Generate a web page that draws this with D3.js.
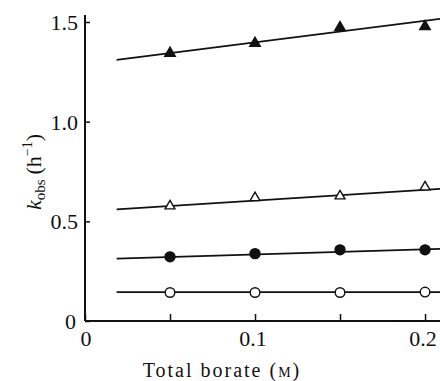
<!DOCTYPE html>
<html>
<head>
<meta charset="utf-8">
<script src="https://cdn.jsdelivr.net/npm/d3@7"></script>
<style>
  html, body { margin: 0; padding: 0; background: #fff; }
  svg { display: block; }
  text { font-family: "Liberation Serif", "DejaVu Serif", serif; fill: #111; }
</style>
</head>
<body>
<svg id="chart" width="440" height="381"></svg>
<script>
// Measured borate concentrations (M)
const borate = [0.05, 0.10, 0.15, 0.20];

// Observed rate constants k_obs (h^-1) for each series
const filledTriangle = [1.343, 1.393, 1.472, 1.477];
const openTriangle   = [0.577, 0.618, 0.627, 0.672];
const filledCircle   = [0.322, 0.338, 0.357, 0.357];
const openCircle     = [0.143, 0.143, 0.143, 0.145];

// Least-squares fit lines: [intercept, slope]
const fitFilledTriangle = [1.290, 1.08];
const fitOpenTriangle   = [0.550, 0.54];
const fitFilledCircle   = [0.308, 0.26];
const fitOpenCircle     = [0.145, 0.00];
const fitRange = [0.0186, 0.209];

// Axis ticks
const xTicks = [0, 0.05, 0.1, 0.15, 0.2];
const xTickLabels = ["0", "", "0.1", "", "0.2"];
const yTicks = [0, 0.5, 1.0, 1.5];
const yTickLabels = ["0", "0.5", "1.0", "1.5"];

const svg = d3.select("#chart");
const x = d3.scaleLinear().domain([0, 0.2088]).range([85, 440]);
const y = d3.scaleLinear().domain([0, 1.5]).range([321, 22]);

// Axes
const g = svg.append("g");
g.append("line").attr("x1", x(0)).attr("x2", 440).attr("y1", y(0)).attr("y2", y(0))
  .attr("stroke", "#111").attr("stroke-width", 2);
g.append("line").attr("x1", x(0)).attr("x2", x(0)).attr("y1", y(0)).attr("y2", 15)
  .attr("stroke", "#111").attr("stroke-width", 2);

const xAxis = d3.axisTop(x).tickValues(xTicks).tickSize(7).tickFormat("");
svg.append("g").attr("transform", `translate(0,${y(0)})`).call(xAxis)
  .call(s => s.select(".domain").remove())
  .call(s => s.selectAll("line").attr("stroke", "#111").attr("stroke-width", 1.5));

const yAxis = d3.axisRight(y).tickValues(yTicks).tickSize(5).tickFormat("");
svg.append("g").attr("transform", `translate(${x(0)},0)`).call(yAxis)
  .call(s => s.select(".domain").remove())
  .call(s => s.selectAll("line").attr("stroke", "#111").attr("stroke-width", 1.5));

// Tick labels
svg.append("g").selectAll("text").data(xTicks).join("text")
  .attr("x", (d, i) => x(d) + (i === 0 ? 1 : -2))
  .attr("y", 346)
  .attr("text-anchor", "middle")
  .attr("font-size", 22)
  .text((d, i) => xTickLabels[i]);

svg.append("g").selectAll("text").data(yTicks).join("text")
  .attr("x", (d, i) => i === 0 ? 76 : 78)
  .attr("y", d => y(d) + 8)
  .attr("text-anchor", "end")
  .attr("font-size", 22)
  .text((d, i) => yTickLabels[i]);

// Axis titles
const xt = svg.append("text")
  .attr("x", 222).attr("y", 377)
  .attr("text-anchor", "middle")
  .attr("font-size", 20)
  .attr("letter-spacing", 2);
xt.append("tspan").text("Total borate (");
xt.append("tspan").attr("font-size", 14).text("M");
xt.append("tspan").text(")");

const yt = svg.append("text")
  .attr("transform", "translate(41,172) rotate(-90)")
  .attr("text-anchor", "middle")
  .attr("font-size", 22);
yt.append("tspan").attr("font-style", "italic").text("k");
yt.append("tspan").attr("font-size", 15).attr("dy", 4).text("obs");
yt.append("tspan").attr("dy", -4).attr("dx", 5).text("(h");
yt.append("tspan").attr("font-size", 14).attr("dy", -9).text("−1");
yt.append("tspan").attr("dy", 9).text(")");

// Fit lines
const fits = [fitFilledTriangle, fitOpenTriangle, fitFilledCircle, fitOpenCircle];
const line = d3.line().x(d => x(d[0])).y(d => y(d[1]));
svg.append("g").selectAll("path").data(fits).join("path")
  .attr("d", f => line(fitRange.map(v => [v, f[0] + f[1] * v])))
  .attr("fill", "none").attr("stroke", "#111").attr("stroke-width", 1.8);

// Data markers
const series = [
  { values: filledTriangle, type: d3.symbolTriangle, size: 48, fill: "#111" },
  { values: openTriangle,   type: d3.symbolTriangle, size: 42, fill: "#fff" },
  { values: filledCircle,   type: d3.symbolCircle,   size: 78, fill: "#111" },
  { values: openCircle,     type: d3.symbolCircle,   size: 72, fill: "#fff" }
];
series.forEach(s => {
  svg.append("g").selectAll("path").data(s.values).join("path")
    .attr("transform", (d, i) => `translate(${x(borate[i])},${y(d)})`)
    .attr("d", d3.symbol().type(s.type).size(s.size))
    .attr("fill", s.fill).attr("stroke", "#111").attr("stroke-width", 1.4);
});
</script>
</body>
</html>
